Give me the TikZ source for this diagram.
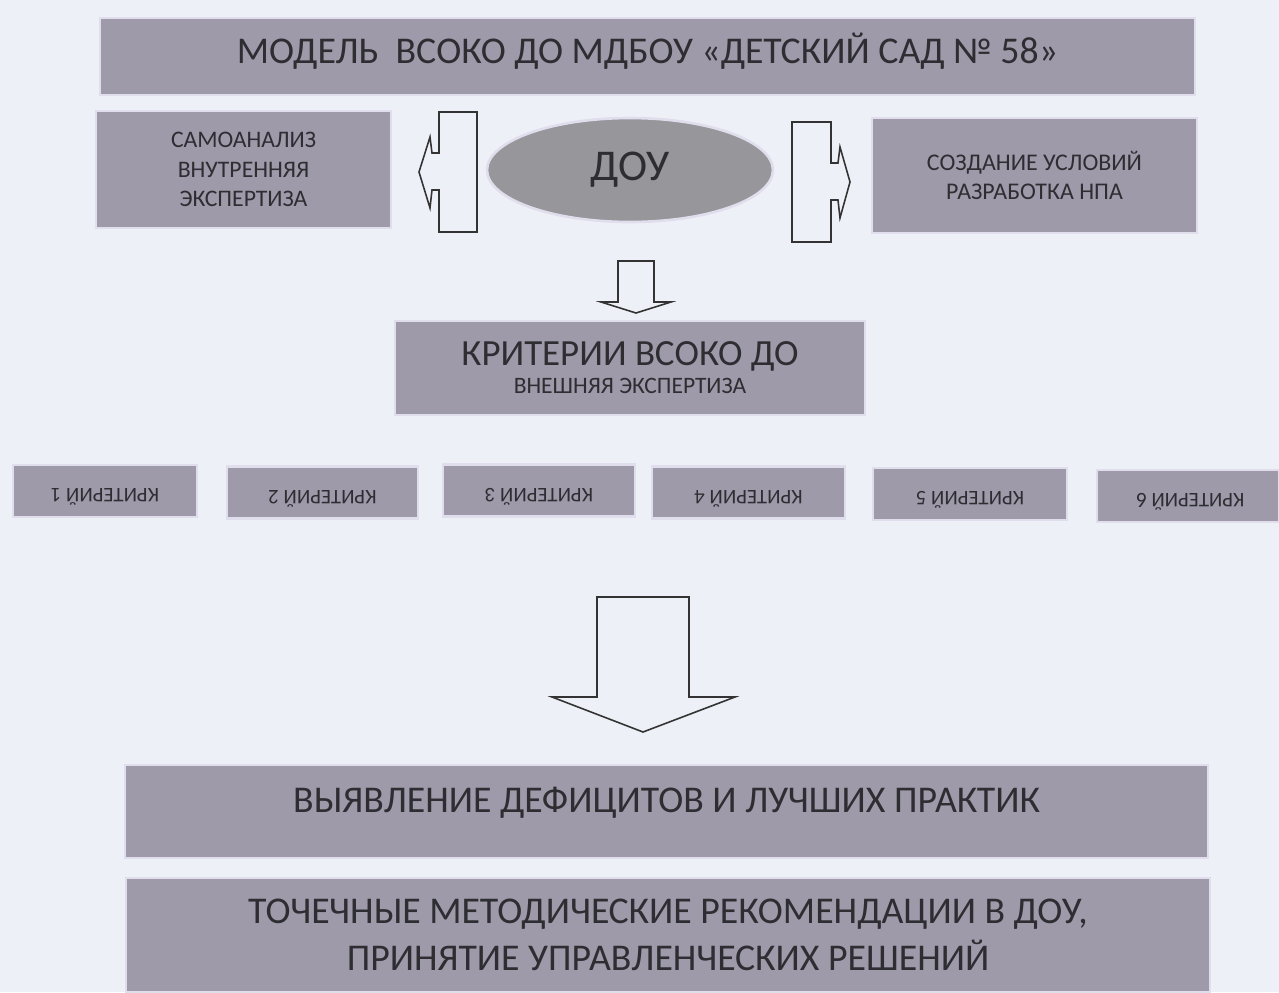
\documentclass[tikz,border=0pt]{standalone}
\usepackage{fontspec}
\setmainfont{Carlito}
\usetikzlibrary{shapes.geometric}
\definecolor{pagebg}{RGB}{238,240,247}
\definecolor{boxfill}{RGB}{158,154,170}
\definecolor{ovalfill}{RGB}{150,150,155}
\definecolor{boxglow}{RGB}{224,221,236}
\definecolor{txt}{RGB}{45,45,50}

\begin{document}
\begin{tikzpicture}[x=0.02cm,y=-0.02cm,
    box/.style={rectangle,fill=boxfill,draw=boxglow,line width=1.5pt,
      text=txt,align=center,inner sep=0pt},
    critbox/.style={box,rotate=180,minimum height=1.04cm,text depth=7pt,
      font=\fontsize{11.8}{13}\selectfont},
    blockarrow/.style={draw=black!80,fill=pagebg,line width=0.9pt,line join=miter}]
              %\draw[help lines](0,0) grid (1279,992);
              \path[use as bounding box,fill=pagebg] (0,0) rectangle (1279,992);

              \node[box,minimum width=21.9cm,minimum height=1.54cm,text depth=9pt,
                font=\fontsize{21.5}{24}\selectfont] (model) at (647.5,56.5)
                {МОДЕЛЬ \ ВСОКО ДО МДБОУ «ДЕТСКИЙ САД № 58»};

              \node[box,minimum width=5.9cm,minimum height=2.34cm,
                font=\fontsize{13.5}{16.6}\selectfont] (samo) at (243.5,169.5)
                {САМОАНАЛИЗ\\ВНУТРЕННЯЯ\\ЭКСПЕРТИЗА};
              \node[box,minimum width=6.5cm,minimum height=2.3cm,
                font=\fontsize{13.6}{17}\selectfont] (uslov) at (1034.5,175.5)
                {СОЗДАНИЕ УСЛОВИЙ\\РАЗРАБОТКА НПА};
              \node[ellipse,fill=ovalfill,draw=boxglow,line width=1.5pt,text=txt,
                minimum width=5.72cm,minimum height=2.08cm,inner sep=0pt,
                font=\fontsize{25}{30}\selectfont] (dou) at (630,170) {ДОУ};

              % arrows left and right of the oval
              \draw[blockarrow] (477,112)--(439,112)--(439,153)--(432,153)--(430,137)
                --(419,172)--(430,208)--(432,190)--(439,190)--(439,232)--(477,232)--cycle;
              \draw[blockarrow] (792,122)--(831,122)--(831,163)--(838,163)--(840,147)
                --(850,182)--(840,218)--(838,200)--(831,200)--(831,242)--(792,242)--cycle;

              % small arrow down to the criteria
              \draw[blockarrow] (618,261)--(654,261)--(654,302)--(671,302)--(636,313)
                --(601,302)--(618,302)--cycle;

              \node[box,minimum width=9.4cm,minimum height=1.88cm] (krit) at (630,368)
                {\fontsize{21}{24}\selectfont КРИТЕРИИ ВСОКО ДО\\[4pt]
                 \fontsize{13.4}{15}\selectfont ВНЕШНЯЯ ЭКСПЕРТИЗА};

              \foreach \cx/\cy/\w/\n in {
                105/491/3.68/1, 322.5/492.5/3.82/2, 539/490.5/3.84/3,
                748.5/492.5/3.86/4, 970/494/3.88/5, 1188/496/3.64/6
                }{\node[critbox,minimum width=\w cm] (k\n) at (\cx,\cy) {КРИТЕРИЙ \n};}

              % big arrow down
              \draw[blockarrow] (597,597)--(689,597)--(689,697)--(735,697)--(643,732)
                --(552,697)--(597,697)--cycle;

              \node[box,minimum width=21.66cm,minimum height=1.86cm,text depth=13pt,
                font=\fontsize{21.5}{24}\selectfont] (vyav) at (666.5,811.5)
                {ВЫЯВЛЕНИЕ ДЕФИЦИТОВ И ЛУЧШИХ ПРАКТИК};
              \node[box,minimum width=21.68cm,minimum height=2.28cm,
                font=\fontsize{21.5}{26.6}\selectfont] (toch) at (668,935)
                {ТОЧЕЧНЫЕ МЕТОДИЧЕСКИЕ РЕКОМЕНДАЦИИ В ДОУ,\\ПРИНЯТИЕ УПРАВЛЕНЧЕСКИХ РЕШЕНИЙ};
            \end{tikzpicture}
\end{document}
